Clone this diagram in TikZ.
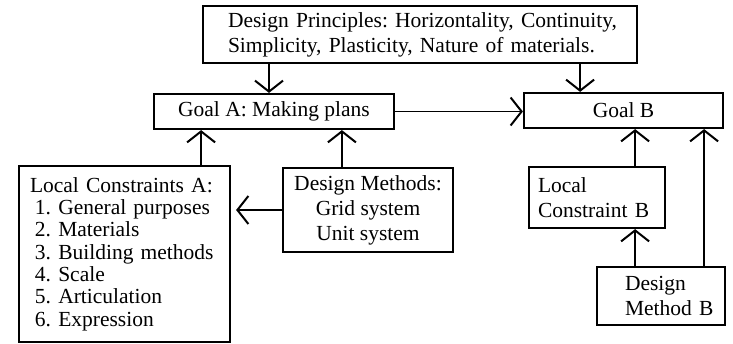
\documentclass[tikz,border=0pt]{standalone}
\usepackage{fontspec}
\setmainfont{Liberation Serif}
\usetikzlibrary{arrows.meta}
\frenchspacing
\begin{document}
\begin{tikzpicture}[x=1pt,y=-1pt,
  box/.style={draw, line width=2.2pt, inner sep=0pt, font=\fontsize{21.5}{25}\selectfont},
  arr/.style={line width=1.6pt, -{Straight Barb[length=11pt,width=28pt,line width=2pt]}}]
\useasboundingbox (0,0) rectangle (733,343);
\node[box, minimum width=434, minimum height=57, text width=434, align=left] (prin) at (420,34.5){\hspace*{25pt}Design Principles: Horizontality, Continuity,\\\hspace*{25pt}Simplicity, Plasticity, Nature of materials.};
\node[box, minimum width=240, minimum height=35, align=center] (goalA) at (274,111.5){Goal A: Making plans};
\node[box, minimum width=199, minimum height=35, align=center] (goalB) at (623.5,110.5){Goal B};
\node[box, minimum width=211, minimum height=176, text width=211, align=left, font=\fontsize{21.5}{22.3}\selectfont] (lca) at (124.5,254){\hspace*{11pt}Local Constraints A:\\\hspace*{16pt}1. General purposes\\\hspace*{16pt}2. Materials\\\hspace*{16pt}3. Building methods\\\hspace*{16pt}4. Scale\\\hspace*{16pt}5. Articulation\\\hspace*{16pt}6. Expression};
\node[box, minimum width=170, minimum height=84, align=center] (dm) at (368,210){Design Methods:\\Grid system\\Unit system};
\node[box, minimum width=136, minimum height=61, text width=136, align=left] (lcb) at (597,197.5){\hspace*{9pt}Local\\\hspace*{9pt}Constraint B};
\node[box, minimum width=128, minimum height=58, text width=128, align=left] (dmb) at (661,296){\hspace*{28pt}Design\\\hspace*{28pt}Method B};
\draw[arr]([xshift=-5]goalA.north |- prin.south) -- ([xshift=-5]goalA.north);
\draw[arr]([xshift=-58]prin.south east) -- ([xshift=-58]prin.south east |- goalB.north);
\draw[arr](goalA.east) -- (goalA.east -| goalB.west);
\draw[arr]([xshift=-30]lca.north east) -- ([xshift=-30]lca.north east |- goalA.south);
\draw[arr]([xshift=60]dm.north west) -- ([xshift=60]dm.north west |- goalA.south);
\draw[arr, shorten >=5pt](dm.west) -- (dm.west -| lca.east);
\draw[arr]([xshift=-31]lcb.north east) -- ([xshift=-31]lcb.north east |- goalB.south);
\draw[arr]([xshift=-31]lcb.south east |- dmb.north) -- ([xshift=-31]lcb.south east);
\draw[arr]([xshift=-22]dmb.north east) -- ([xshift=-22]dmb.north east |- goalB.south);
\end{tikzpicture}
\end{document}
